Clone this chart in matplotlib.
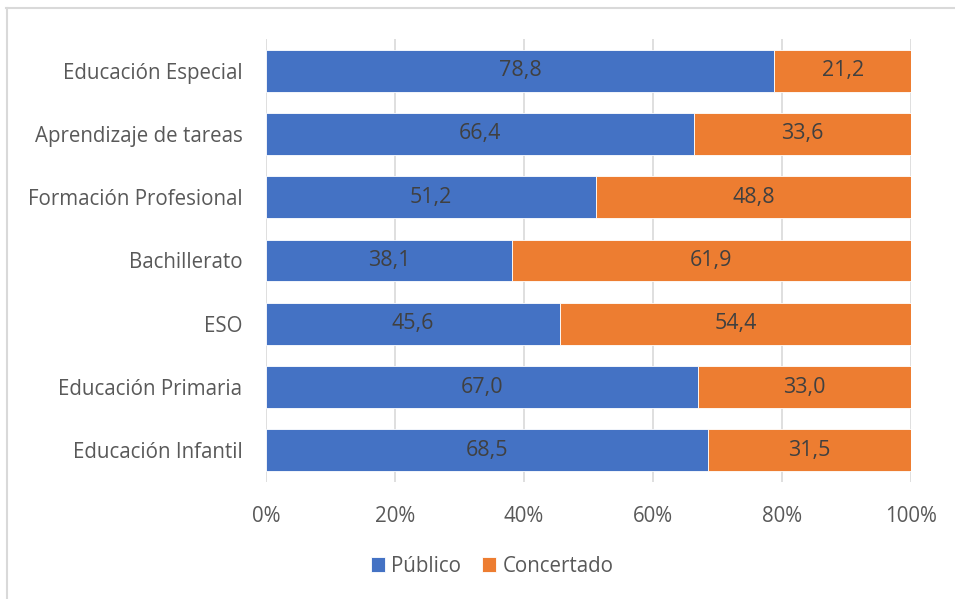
import matplotlib
matplotlib.use('Agg')
import matplotlib.pyplot as plt
import numpy as np

categorias = ['Educación Infantil', 'Educación Primaria', 'ESO', 'Bachillerato',
              'Formación Profesional', 'Aprendizaje de tareas', 'Educación Especial']
publico = [68.5, 67.0, 45.6, 38.1, 51.2, 66.4, 78.8]
concertado = [31.5, 33.0, 54.4, 61.9, 48.8, 33.6, 21.2]
ticks = [0, 20, 40, 60, 80, 100]

plt.rcParams['font.family'] = ['Open Sans', 'DejaVu Sans']
azul = '#4472C4'
naranja = '#ED7D31'
gris = '#595959'
fs = 14.8

fig = plt.figure(figsize=(9.55, 5.99), dpi=100)
ax = fig.add_axes([266/955, 1-482/599, (911-266)/955, (482-39)/599])

y = np.arange(len(categorias))
b1 = ax.barh(y, publico, height=0.66, color=azul, edgecolor='white', linewidth=0.6, label='Público', zorder=3)
b2 = ax.barh(y, concertado, left=publico, height=0.66, color=naranja, edgecolor='white', linewidth=0.6, label='Concertado', zorder=3)

for barras, vals in [(b1, publico), (b2, concertado)]:
    ax.bar_label(barras, labels=[f'{v:.1f}'.replace('.', ',') for v in vals],
                 label_type='center', color='#404040', fontsize=15.5)

ax.set_xlim(0, 100)
ax.set_ylim(-0.5, len(categorias) - 0.5)
ax.set_xticks(ticks)
ax.set_xticklabels([f'{t}%' for t in ticks])
ax.set_yticks(y)
ax.set_yticklabels(categorias)
ax.tick_params(axis='both', length=0, labelsize=fs, labelcolor=gris)
ax.tick_params(axis='x', pad=17)
ax.tick_params(axis='y', pad=17)
ax.grid(axis='x', color='#D9D9D9', linewidth=1.2, zorder=0)
for s in ax.spines.values():
    s.set_visible(False)

leg = fig.legend(handles=[b1, b2], loc='center', bbox_to_anchor=(492/955, 1-566/599), ncol=2, frameon=False,
                 fontsize=fs, handlelength=0.7, handleheight=0.7, handletextpad=0.3,
                 columnspacing=1.0)
for t in leg.get_texts():
    t.set_color(gris)

# borde del gráfico
fig.add_artist(plt.Line2D([6/955, 1], [1-8/599, 1-8/599], color='#D9D9D9', linewidth=1.5))
fig.add_artist(plt.Line2D([7/955, 7/955], [0, 1-8/599], color='#D9D9D9', linewidth=1.5))

fig.savefig('out.png', dpi=100)
